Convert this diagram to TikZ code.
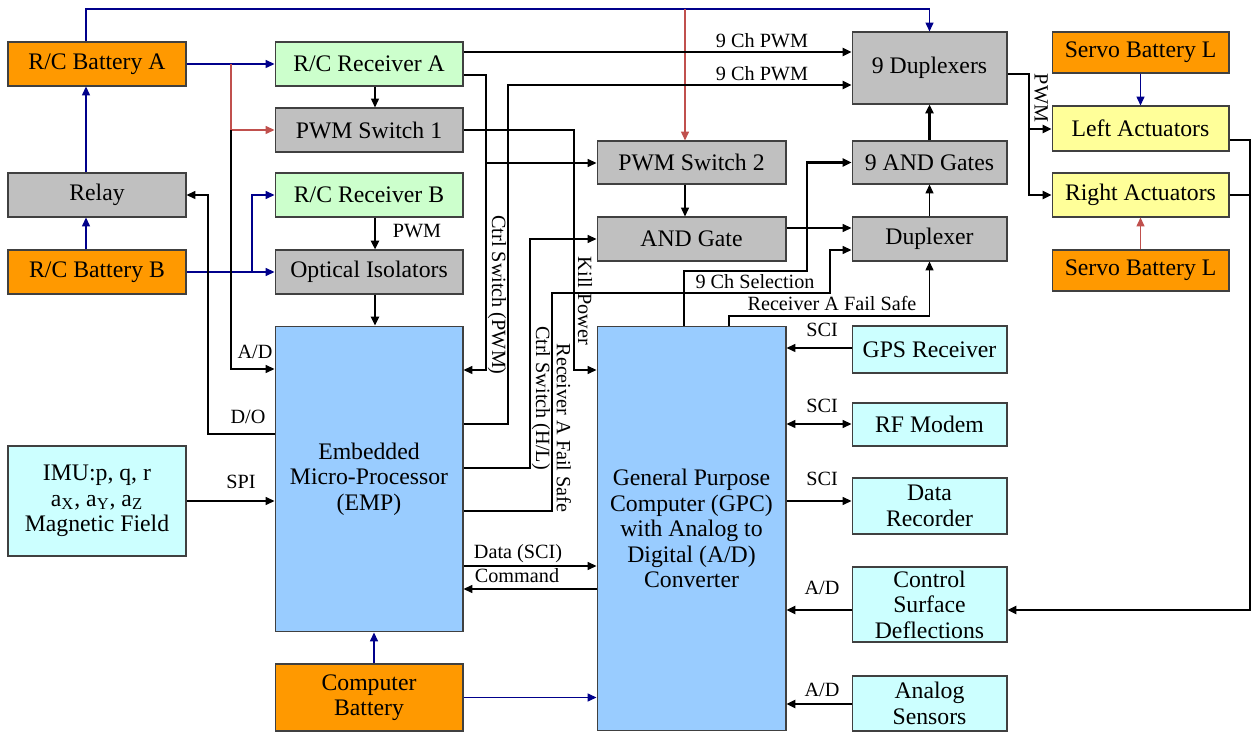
\documentclass[tikz,border=0pt]{standalone}
\usepackage{fontspec}
\setmainfont{Liberation Serif}
\usetikzlibrary{arrows.meta}
\definecolor{orng}{HTML}{FF9900}
\definecolor{grn}{HTML}{CCFFCC}
\definecolor{gry}{HTML}{C0C0C0}
\definecolor{ylw}{HTML}{FFFF99}
\definecolor{cyn}{HTML}{CCFFFF}
\definecolor{blu}{HTML}{99CCFF}
\definecolor{bwire}{HTML}{00008B}
\definecolor{rwire}{HTML}{C0504D}
\newcommand\boxfont{\fontsize{13.5}{14.5}\selectfont}
\newcommand\lblfont{\fontsize{11.5}{13}\selectfont}
\begin{document}
\begin{tikzpicture}[x=0.02cm,y=-0.02cm,
  box/.style={draw=black!75, line width=0.6pt, inner sep=0pt, align=center, font=\boxfont},
  sz/.style 2 args={minimum width=#1*0.569pt, minimum height=#2*0.569pt},
  lbl/.style={font=\lblfont, inner sep=0pt},
  w/.style={draw=black, line width=0.7pt},
  tw/.style={draw=black, line width=1.4pt},
  bw/.style={draw=bwire, line width=0.7pt},
  rw/.style={draw=rwire, line width=0.7pt},
  arr/.style={-{Triangle[length=5pt,width=4.5pt]}},
  arrs/.style={{Triangle[length=5pt,width=4.5pt]}-{Triangle[length=5pt,width=4.5pt]}}
]
\useasboundingbox (0,0) rectangle (1254,732);

% ---------- boxes ----------
\node[box, fill=orng, sz={178}{44}] (batA) at (97,64) {R/C Battery A};
\node[box, fill=gry,  sz={178}{44}] (relay) at (97,195) {Relay};
\node[box, fill=orng, sz={178}{44}] (batB) at (97,272) {R/C Battery B};
\node[box, fill=cyn,  sz={178}{110}] (imu) at (97,501) {IMU:p, q, r\\a\textsubscript{X}, a\textsubscript{Y}, a\textsubscript{Z}\\Magnetic Field};

\node[box, fill=grn, sz={188}{44}] (rxA) at (369,64) {R/C Receiver A};
\node[box, fill=gry, sz={188}{44}] (pwm1) at (369,130) {PWM Switch 1};
\node[box, fill=grn, sz={188}{44}] (rxB) at (369,195) {R/C Receiver B};
\node[box, fill=gry, sz={188}{44}] (opt) at (369,272) {Optical Isolators};
\node[box, fill=blu, sz={188}{306}] (emp) at (369,479) {Embedded\\Micro-Processor\\(EMP)};
\node[box, fill=orng, sz={188}{67}] (cbat) at (369,697.5) {Computer\\Battery};

\node[box, fill=gry, sz={189}{43}] (pwm2) at (691.5,162.5) {PWM Switch 2};
\node[box, fill=gry, sz={189}{44}] (andg) at (691.5,239) {AND Gate};
\node[box, fill=blu, sz={189}{405}] (gpc) at (691.5,528.5) {General Purpose\\Computer (GPC)\\with Analog to\\Digital (A/D)\\Converter};

\node[box, fill=gry, sz={155}{72}] (dup9) at (929.5,68) {9 Duplexers};
\node[box, fill=gry, sz={155}{43}] (and9) at (929.5,162.5) {9 AND Gates};
\node[box, fill=gry, sz={155}{44}] (dup) at (929.5,239) {Duplexer};
\node[box, fill=cyn, sz={155}{47}] (gps) at (929.5,349.5) {GPS Receiver};
\node[box, fill=cyn, sz={155}{43}] (rf) at (929.5,424.5) {RF Modem};
\node[box, fill=cyn, sz={155}{56}] (drec) at (929.5,506) {Data\\Recorder};
\node[box, fill=cyn, sz={155}{75}] (csd) at (929.5,604.5) {Control\\Surface\\Deflections};
\node[box, fill=cyn, sz={155}{55}] (ans) at (929.5,703.5) {Analog\\Sensors};

\node[box, fill=orng, sz={177}{41}] (sbt) at (1140.5,52.5) {Servo Battery L};
\node[box, fill=ylw, sz={177}{45}] (lact) at (1140.5,128.5) {Left Actuators};
\node[box, fill=ylw, sz={177}{44}] (ract) at (1140.5,195) {Right Actuators};
\node[box, fill=orng, sz={177}{41}] (sbb) at (1140.5,270.5) {Servo Battery L};

% ---------- junctions ----------
\coordinate (jA) at (231,64);
\coordinate (jB) at (252,272);
\coordinate (jC) at (486,163);
\coordinate (jTop) at (685,9);
\coordinate (jP) at (1029,129);
\coordinate (jR) at (1250,195);

% ---------- power (blue / red) ----------
\draw[bw,arr] (batA.north -| 86,0) -- (86,9) -| (dup9.north);
\draw[bw,arr] (relay.north -| 86,0) -- (batA.south -| 86,0);
\draw[bw,arr] (batB.north -| 86,0) -- (relay.south -| 86,0);
\draw[bw,arr] (batA.east) -- (rxA.west);
\draw[rw,arr] (jA) |- (pwm1.west);
\draw[bw,arr] (batB.east) -- (opt.west);
\draw[bw,arr] (jB) |- (rxB.west);
\draw[rw,arr] (jTop) -- (pwm2.north -| jTop);
\draw[bw,arr] (cbat.north -| 374,0) -- (emp.south -| 374,0);
\draw[bw,arr] (cbat.east) -- (gpc.west |- cbat.east);
\draw[bw,arr] (sbt.south) -- (lact.north);
\draw[rw,arr] (sbb.north) -- (ract.south);

% ---------- signals, left part ----------
\draw[w,arr] (jA |- pwm1.west) -- (231,369) -- (emp.west |- 0,369);
\draw[w,arr] (emp.west |- 0,434) -| (208,195) -- (relay.east);
\draw[w,arr] (rxA.south -| 375,0) -- (pwm1.north -| 375,0);
\draw[tw,arr] (rxB.south -| 375,0) -- (opt.north -| 375,0);
\draw[tw,arr] (opt.south -| 375,0) -- (emp.north -| 375,0);
\draw[w,arr] (imu.east) -- (emp.west |- imu.east);
\draw[w,arr] (emp.east |- 0,566) -- (gpc.west |- 0,566);
\draw[w,arr] (gpc.west |- 0,589) -- (emp.east |- 0,589);

% ---------- signals, middle ----------
\draw[tw,arr] (rxA.east |- 0,52) -- (dup9.west |- 0,52);
\draw[w,arr] (rxA.east |- 0,75) -| (486,370) -- (emp.east |- 0,370);
\draw[w,arr] (jC) -- (pwm2.west |- jC);
\draw[tw,arr] (emp.east |- 0,424) -| (508,85) -- (dup9.west |- 0,85);
\draw[w,arr] (pwm1.east) -| (574,370) -- (gpc.west |- 0,370);
\draw[w,arr] (pwm2.south -| jTop) -- (andg.north -| jTop);
\draw[w,arr] (andg.east |- 0,228) -- (dup.west |- 0,228);
\draw[w,arr] (emp.east |- 0,468) -| (530,239) -- (andg.west);
\draw[w,arr] (emp.east |- 0,511) -| (552,293) -| (830,250) -- (dup.west |- 0,250);
\draw[tw,arr] (gpc.north -| 684,0) |- (807,271) |- (and9.west);
\draw[w,arr] (gpc.north -| 729,0) |- (dup.south |- 0,316) -- (dup.south);
\draw[w,arr] (dup.north) -- (and9.south);
\draw[tw,arr] (and9.north) -- (dup9.south);

% ---------- right part ----------
\draw[tw,arr] (dup9.east |- 0,74) -| (1029,195) -- (ract.west);
\draw[tw,arr] (jP) -- (lact.west |- jP);
\draw[tw,arr] (lact.east |- 0,140) -| (1250,610) -- (csd.east |- 0,610);
\draw[tw] (ract.east) -- (jR);
\draw[w,arr] (gps.west |- 0,348) -- (gpc.east |- 0,348);
\draw[w,arrs] (gpc.east |- 0,424) -- (rf.west |- 0,424);
\draw[w,arr] (gpc.east |- 0,501) -- (drec.west |- 0,501);
\draw[tw,arr] (csd.west |- 0,610) -- (gpc.east |- 0,610);
\draw[tw,arr] (ans.west |- 0,704) -- (gpc.east |- 0,704);

% ---------- labels ----------
\node[lbl] (l1) at (762,41) {9 Ch PWM};
\node[lbl] (l2) at (762,74) {9 Ch PWM};
\node[lbl] (l3) at (417,231) {PWM};
\node[lbl, rotate=-90] (l4) at (497,295) {Ctrl Switch (PWM)};
\node[lbl, rotate=-90] (l5) at (585,301) {Kill Power};
\node[lbl, rotate=-90] (l6) at (541,398) {Ctrl Switch (H/L)};
\node[lbl, rotate=-90] (l7) at (564,428) {Receiver A Fail Safe};
\node[lbl] (l8) at (255,352) {A/D};
\node[lbl] (l9) at (248,417) {D/O};
\node[lbl] (l10) at (241,482) {SPI};
\node[lbl] (l11) at (518,554) {Data (SCI)};
\node[lbl] (l12) at (517,576) {Command};
\node[lbl] (l13) at (755,282) {9 Ch Selection};
\node[lbl] (l14) at (832,303) {Receiver A Fail Safe};
\node[lbl] (l15) at (822,330) {SCI};
\node[lbl] (l16) at (822,406) {SCI};
\node[lbl] (l17) at (822,479) {SCI};
\node[lbl] (l18) at (822,588) {A/D};
\node[lbl] (l19) at (822,690) {A/D};
\node[lbl, rotate=-90] (l20) at (1041,98) {PWM};
\end{tikzpicture}
\end{document}
